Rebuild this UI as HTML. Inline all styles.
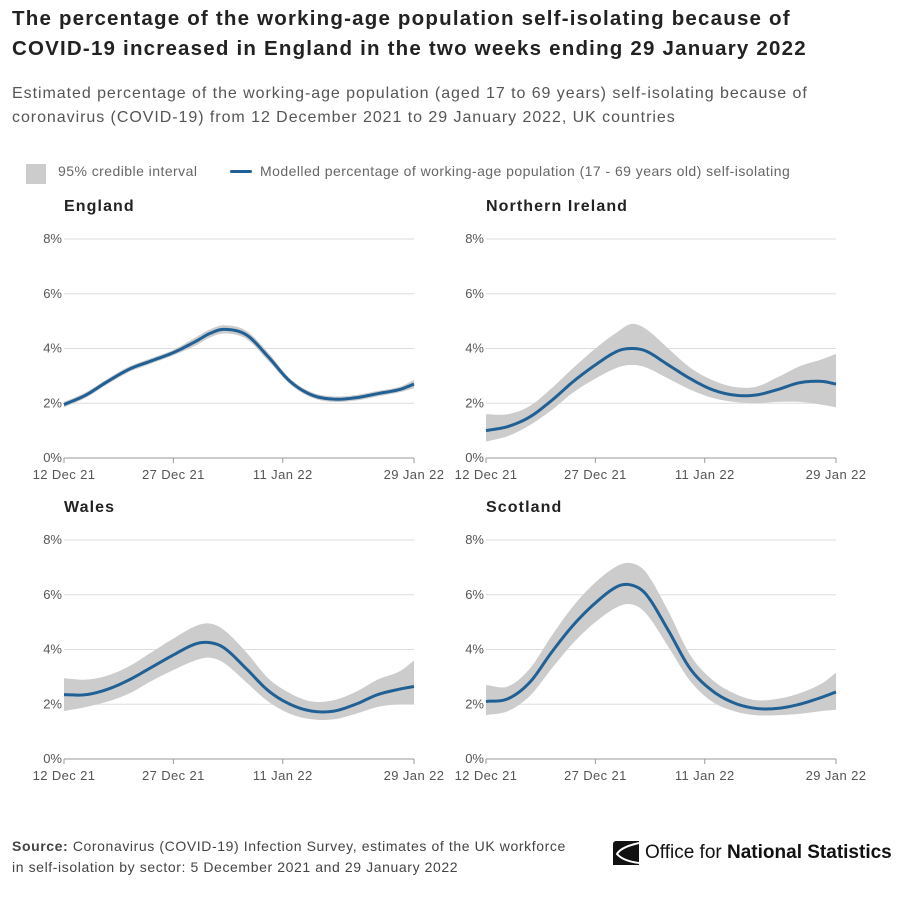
<!DOCTYPE html>
<html><head><meta charset="utf-8"><style>
body{margin:0;width:902px;height:906px;background:#fff;font-family:"Liberation Sans",sans-serif;color:#222;overflow:hidden;position:relative}
.t{position:absolute;white-space:nowrap}
</style></head><body>
<div class="t" style="left:12px;top:4px;font-size:20.5px;font-weight:bold;line-height:30px;color:#222;letter-spacing:1.2px">The percentage of the working-age population self-isolating because of<br>COVID-19 increased in England in the two weeks ending 29 January 2022</div>
<div class="t" style="left:12px;top:82px;font-size:16px;line-height:24px;color:#555;letter-spacing:0.95px">Estimated percentage of the working-age population (aged 17 to 69 years) self-isolating because of<br>coronavirus (COVID-19) from 12 December 2021 to 29 January 2022, UK countries</div>
<div style="position:absolute;left:26px;top:161px;height:22px;font-size:14px;color:#666;letter-spacing:0.45px">
 <span style="position:absolute;left:0;top:3px;width:20px;height:20px;background:#ccc"></span>
 <span class="t" style="left:32px;top:2px">95% credible interval</span>
 <span style="position:absolute;left:204px;top:9px;width:22px;height:3px;background:#206095;border-radius:2px"></span>
 <span class="t" style="left:234px;top:2px">Modelled percentage of working-age population (17 - 69 years old) self-isolating</span>
</div>
<svg id="chart" width="902" height="906" style="position:absolute;left:0;top:0"></svg>
<div class="t" style="left:12px;top:836px;font-size:14px;line-height:21px;color:#444;letter-spacing:0.6px"><b>Source:</b> Coronavirus (COVID-19) Infection Survey, estimates of the UK workforce<br>in self-isolation by sector: 5 December 2021 and 29 January 2022</div>
<div style="position:absolute;left:613px;top:841px;width:26px;height:24px;background:#111;border-radius:3px 0 0 0"><svg width="26" height="24"><path d="M26 2 Q8 6 4 13 Q10 20 26 22" stroke="#fff" stroke-width="2" fill="none"/></svg></div>
<div class="t" style="left:645px;top:842px;font-size:19px;color:#111">Office for <b>National Statistics</b></div>
<script>
const days=[0,3,6,9,12,15,18,20,22,25,28,31,34,37,40,43,46,48];
const engMid=[1.95,2.3,2.8,3.25,3.55,3.85,4.25,4.55,4.7,4.5,3.7,2.8,2.3,2.15,2.2,2.35,2.5,2.7];
const engLo=[1.85,2.2,2.7,3.15,3.45,3.75,4.1,4.4,4.55,4.35,3.55,2.7,2.2,2.05,2.1,2.25,2.4,2.55];
const engHi=[2.05,2.4,2.9,3.35,3.65,3.95,4.4,4.7,4.85,4.65,3.85,2.9,2.4,2.25,2.3,2.45,2.6,2.85];
const niMid=[1.0,1.15,1.5,2.1,2.8,3.4,3.9,4.0,3.9,3.4,2.9,2.5,2.3,2.3,2.5,2.75,2.8,2.7];
const niLo=[0.6,0.8,1.2,1.75,2.4,2.9,3.3,3.4,3.3,2.9,2.5,2.2,2.05,2.0,2.05,2.05,1.95,1.85];
const niHi=[1.6,1.6,1.9,2.55,3.3,4.0,4.6,4.9,4.7,4.0,3.3,2.85,2.6,2.6,2.95,3.35,3.6,3.8];
const waMid=[2.35,2.35,2.55,2.9,3.35,3.8,4.2,4.25,4.05,3.3,2.5,2.0,1.75,1.75,2.0,2.35,2.55,2.65];
const waLo=[1.75,1.9,2.1,2.4,2.85,3.25,3.6,3.7,3.5,2.8,2.1,1.65,1.45,1.45,1.65,1.9,2.0,2.0];
const waHi=[2.95,2.9,3.05,3.4,3.9,4.4,4.85,4.95,4.7,3.9,2.95,2.4,2.1,2.15,2.45,2.9,3.2,3.6];
const scMid=[2.1,2.2,2.8,3.9,4.9,5.7,6.3,6.35,6.0,4.7,3.3,2.5,2.05,1.85,1.85,2.0,2.25,2.45];
const scLo=[1.6,1.75,2.3,3.3,4.25,5.0,5.55,5.65,5.3,4.1,2.85,2.1,1.75,1.6,1.6,1.65,1.75,1.8];
const scHi=[2.7,2.65,3.3,4.5,5.6,6.45,7.05,7.15,6.8,5.4,3.8,2.9,2.4,2.15,2.2,2.4,2.75,3.15];
const yTicks=[0,2,4,6,8];
const xTicks=[0,15,30,48];
const xLabels=["12 Dec 21","27 Dec 21","11 Jan 22","29 Jan 22"];
const NS="http://www.w3.org/2000/svg";
const svg=document.getElementById('chart');
function mk(tag,attrs){const e=document.createElementNS(NS,tag);for(const k in attrs)e.setAttribute(k,attrs[k]);svg.appendChild(e);return e;}
function spline(xs,ys){const out=[];for(let i=0;i<xs.length-1;i++){const x0=xs[Math.max(i-1,0)],x1=xs[i],x2=xs[i+1],x3=xs[Math.min(i+2,xs.length-1)];const y0=ys[Math.max(i-1,0)],y1=ys[i],y2=ys[i+1],y3=ys[Math.min(i+2,ys.length-1)];const m1=(y2-y0)/((x2-x0)||1),m2=(y3-y1)/((x3-x1)||1);const h=x2-x1;for(let s=0;s<10;s++){const t=s/10,t2=t*t,t3=t2*t;out.push([x1+h*t,(2*t3-3*t2+1)*y1+(t3-2*t2+t)*h*m1+(-2*t3+3*t2)*y2+(t3-t2)*h*m2]);}}out.push([xs[xs.length-1],ys[ys.length-1]]);return out;}
function panel(name,title,x0,y0,mid,lo,hi){
 const w=350,h=219;const X=d=>x0+d/48*w;const Y=v=>y0+h-v/8*h;
 const t=mk('text',{x:x0,y:y0-28,'font-size':16,'font-weight':'bold',fill:'#222','font-family':'Liberation Sans','letter-spacing':1.1});t.textContent=title;
 
 
 yTicks.forEach(v=>{const l=mk('line',{x1:x0,x2:x0+w,y1:Y(v),y2:Y(v),stroke:v===0?'#999':'#ddd','stroke-width':1});
  
  
  const tx=mk('text',{x:x0-2,y:Y(v)+4,'font-size':13,fill:'#555','text-anchor':'end','font-family':'Liberation Sans'});tx.textContent=v+'%';
  
  });
 xTicks.forEach((d,i)=>{mk('line',{x1:X(d),x2:X(d),y1:y0+h,y2:y0+h+5,stroke:'#999'});
  const tx=mk('text',{x:X(d),y:y0+h+21,'font-size':13,fill:'#555','text-anchor':'middle','font-family':'Liberation Sans','letter-spacing':0.4});tx.textContent=xLabels[i];
  
  });
 const up=spline(days,hi),dn=spline(days,lo).reverse();
 const band=mk('polygon',{points:up.concat(dn).map(p=>X(p[0])+','+Y(p[1])).join(' '),fill:'#ccc'});
 
 
 const ln=mk('polyline',{points:spline(days,mid).map(p=>X(p[0])+','+Y(p[1])).join(' '),fill:'none',stroke:'#206095','stroke-width':3,'stroke-linejoin':'round'});
 
 
}
panel('england','England',64,239,engMid,engLo,engHi);
panel('northern-ireland','Northern Ireland',486,239,niMid,niLo,niHi);
panel('wales','Wales',64,540,waMid,waLo,waHi);
panel('scotland','Scotland',486,540,scMid,scLo,scHi);
</script>
</body></html>
